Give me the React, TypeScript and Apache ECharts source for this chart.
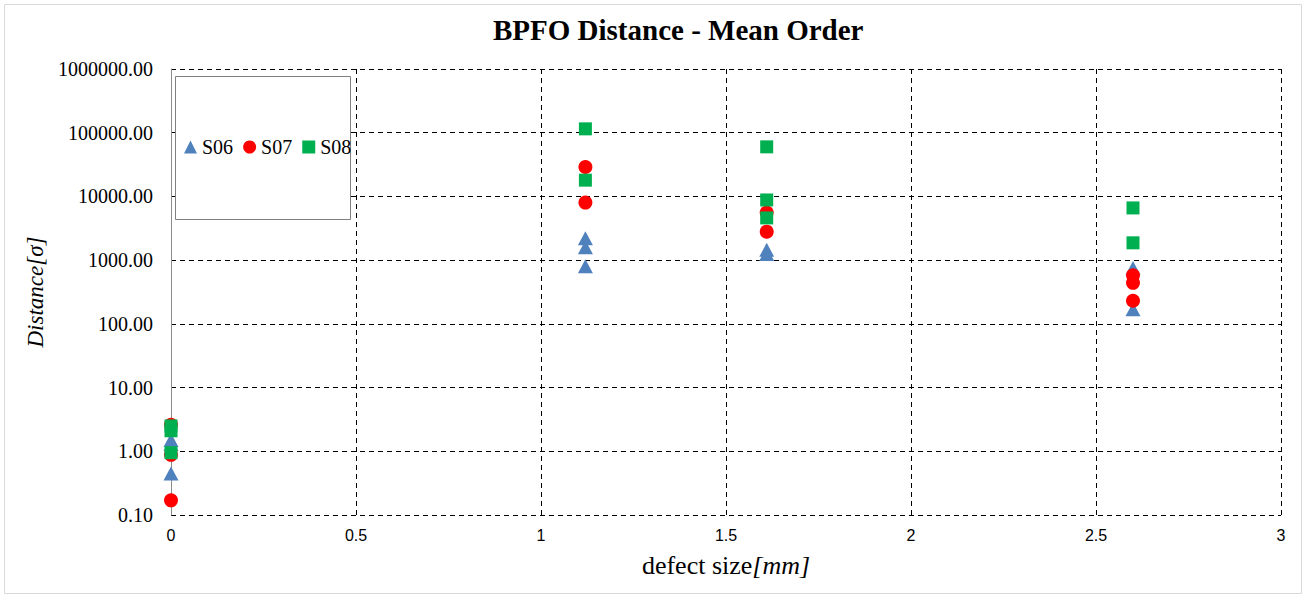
import React, { useEffect, useRef } from "react";
import * as echarts from "echarts";

const xTicks = [0, 0.5, 1, 1.5, 2, 2.5, 3];
const yTickLabels = ["0.10", "1.00", "10.00", "100.00", "1000.00", "10000.00", "100000.00", "1000000.00"];

const s06X = [0, 0, 0, 1.12, 1.12, 1.12, 1.61, 1.61, 2.6, 2.6];
const s06Y = [0.45, 1.3, 1.5, 2200, 1600, 800, 1450, 1250, 750, 170];

const s07X = [0, 0, 0, 1.12, 1.12, 1.61, 1.61, 2.6, 2.6, 2.6];
const s07Y = [0.17, 0.88, 2.6, 29000, 8000, 5600, 2800, 580, 440, 230];

const s08X = [0, 0, 0, 1.12, 1.12, 1.61, 1.61, 1.61, 2.6, 2.6];
const s08Y = [0.95, 2.1, 2.5, 115000, 18000, 60000, 8800, 4600, 6600, 1870];

const serif = "'Liberation Serif', 'Times New Roman', serif";

function pairs(xs: number[], ys: number[]) {
  return xs.map((x, i) => [x, ys[i]]);
}

export default function App() {
  const ref = useRef<HTMLDivElement>(null);
  useEffect(() => {
    if (!ref.current) return;
    const chart = echarts.init(ref.current, null, { renderer: "svg" });
    chart.setOption({
      animation: false,
      backgroundColor: "#ffffff",
      title: {
        text: "BPFO Distance - Mean Order",
        left: 493,
        top: 15,
        padding: 0,
        textStyle: { fontFamily: serif, fontSize: 29, fontWeight: "bold", color: "#000" },
      },
      legend: {
        left: 184,
        top: 137,
        padding: 0,
        z: 6,
        itemWidth: 13,
        itemHeight: 13,
        itemGap: 10,
        textStyle: { fontFamily: serif, fontSize: 20, color: "#000" },
        data: ["S06", "S07", "S08"],
      },
      graphic: [
        {
          type: "rect",
          z: 3,
          shape: { x: 4.5, y: 4.5, width: 1297, height: 589 },
          style: { fill: "none", stroke: "#d9d9d9", lineWidth: 1 },
        },
        {
          type: "rect",
          z: 3,
          shape: { x: 175.5, y: 76.5, width: 175, height: 143 },
          style: { fill: "#ffffff", stroke: "#808080", lineWidth: 1 },
        },
      ],
      grid: { left: 171, right: 25, top: 69, bottom: 81 },
      xAxis: {
        type: "value",
        min: xTicks[0],
        max: xTicks[xTicks.length - 1],
        interval: 0.5,
        name: "{a|defect size}{b|[mm]}",
        nameLocation: "middle",
        nameGap: 37,
        nameTextStyle: {
          rich: {
            a: { fontFamily: serif, fontSize: 26, color: "#000" },
            b: { fontFamily: serif, fontSize: 26, fontStyle: "italic", color: "#000" },
          },
        },
        axisLine: { show: false },
        axisTick: { show: false },
        axisLabel: { fontFamily: "'Liberation Sans', Arial, sans-serif", fontSize: 16, color: "#000", margin: 12 },
        splitLine: { show: true, lineStyle: { color: "#000", type: [5, 4], width: 1 } },
      },
      yAxis: {
        type: "log",
        logBase: 10,
        min: 0.1,
        max: 1000000,
        splitNumber: 7,
        name: "Distance[σ]",
        nameLocation: "middle",
        nameGap: 120,
        nameTextStyle: { fontFamily: serif, fontSize: 23, fontStyle: "italic", color: "#000" },
        axisLine: { show: true, lineStyle: { color: "#8c8c8c", width: 1 } },
        axisTick: { show: false },
        axisLabel: {
          fontFamily: serif,
          fontSize: 20,
          color: "#000",
          margin: 18,
          formatter: (v: number) => {
            const idx = Math.round(Math.log10(v)) + 1;
            return yTickLabels[idx] ?? v.toFixed(2);
          },
        },
        splitLine: { show: true, lineStyle: { color: "#000", type: [5, 4], width: 1 } },
      },
      series: [
        {
          name: "S06",
          type: "scatter",
          symbol: "triangle",
          symbolSize: [15, 14],
          itemStyle: { color: "#4F81BD", opacity: 1 },
          data: pairs(s06X, s06Y),
          z: 5,
        },
        {
          name: "S07",
          type: "scatter",
          symbol: "circle",
          symbolSize: 14,
          itemStyle: { color: "#FF0000", opacity: 1 },
          data: pairs(s07X, s07Y),
          z: 5,
        },
        {
          name: "S08",
          type: "scatter",
          symbol: "rect",
          symbolSize: 13,
          itemStyle: { color: "#00B050", opacity: 1 },
          data: pairs(s08X, s08Y),
          z: 5,
        },
      ],
    });
    return () => chart.dispose();
  }, []);
  return (
    <div
      ref={ref}
      style={{ position: "fixed", left: 0, top: 0, width: 1306, height: 596 }}
    />
  );
}
